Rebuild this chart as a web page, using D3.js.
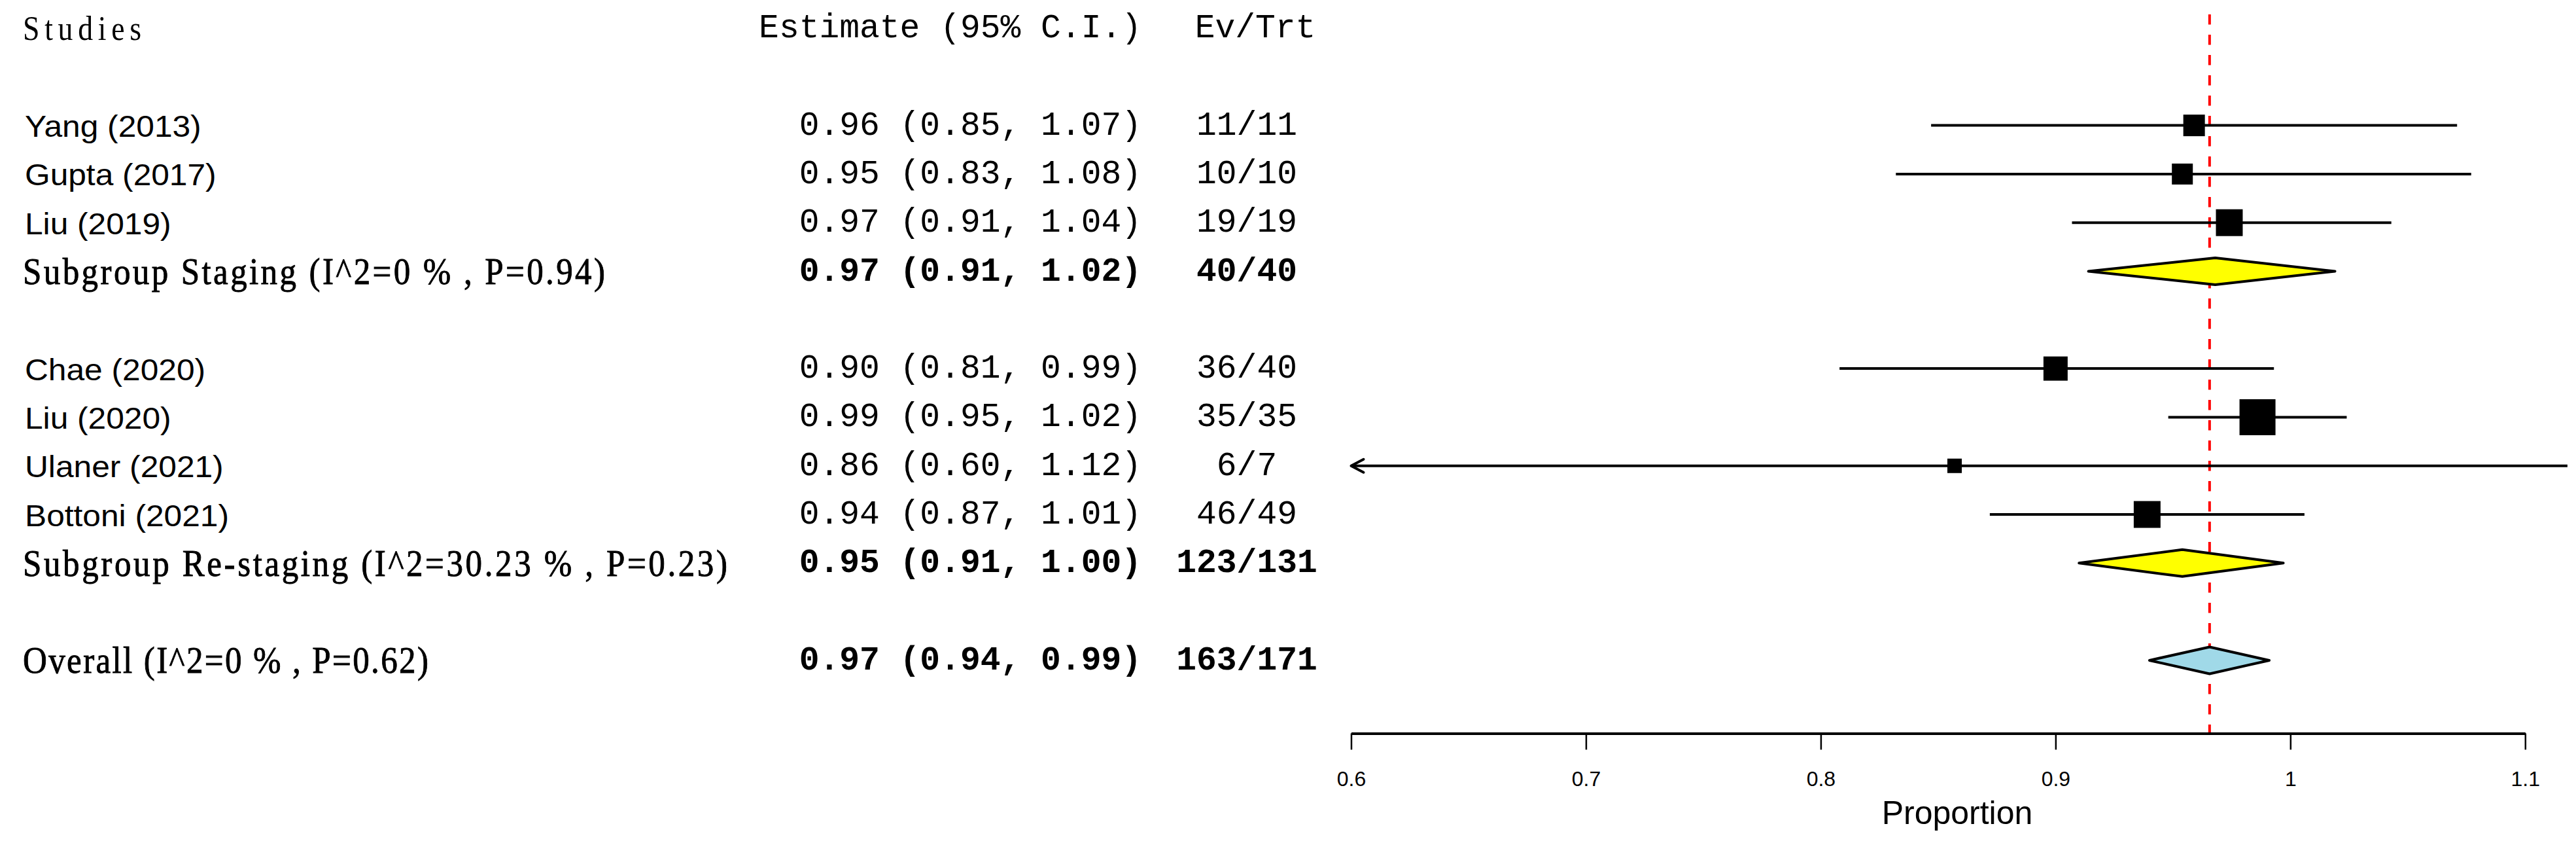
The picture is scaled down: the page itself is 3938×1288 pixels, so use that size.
<!DOCTYPE html>
<html><head><meta charset="utf-8">
<script src="https://cdn.jsdelivr.net/npm/d3@7"></script>
<style>html,body{margin:0;padding:0;background:#fff}</style>
</head><body>
<svg id="chart" width="3938" height="1288"></svg>
<script>
// ---------------- DATA ----------------
const studies      = ["Yang (2013)","Gupta (2017)","Liu (2019)","Chae (2020)","Liu (2020)","Ulaner (2021)","Bottoni (2021)"];
const studyGroup   = ["Staging","Staging","Staging","Re-staging","Re-staging","Re-staging","Re-staging"];
const studyEst     = [0.959,0.954,0.974,0.900,0.986,0.857,0.939];
const studyLower   = [0.847,0.832,0.907,0.808,0.948,0.597,0.872];
const studyUpper   = [1.071,1.077,1.043,0.993,1.024,1.118,1.006];
const studyEvents  = [11,10,19,36,35,6,46];
const studyTotal   = [11,10,19,40,35,7,49];
const studyWeight  = [10.5,9.9,16.2,13.2,29.2,4.7,16.2];

const subgroups    = ["Staging","Re-staging"];
const subEst       = [0.968,0.954];
const subLower     = [0.914,0.910];
const subUpper     = [1.019,0.997];
const subI2        = ["0","30.23"];
const subP         = ["0.94","0.23"];

const overallEst   = 0.9656;
const overallLower = 0.940;
const overallUpper = 0.991;
const overallI2    = "0";
const overallP     = "0.62";

const xTicks       = [0.6,0.7,0.8,0.9,1.0,1.1];
const xTickLabels  = ["0.6","0.7","0.8","0.9","1","1.1"];
const xTitle       = "Proportion";
const headers      = ["Studies","Estimate (95% C.I.)","Ev/Trt"];

// ---------------- LAYOUT ----------------
const W = 3938, H = 1288;
const svg = d3.select("#chart");
svg.append("rect").attr("width",W).attr("height",H).attr("fill","#fff");

const x = d3.scaleLinear().domain([0.6,1.1]).range([2065.5,3860.3]);
const y = d3.scaleLinear().domain([0,14.5]).range([43,1120.4]);
const boxSize = d3.scaleSqrt().domain([0,d3.max(studyWeight)]).range([0,55]);
const clipLo = 0.6, clipHi = 1.2;
const diamondHalf = 20.5;

const SANS = "'Liberation Sans', Arial, Helvetica, sans-serif";
const SERIF = "'Liberation Serif', 'Times New Roman', serif";
const MONO = "'Liberation Mono', 'Courier New', monospace";
const colNameX = 38, colEstRight = 1745, colEvX = 1906, colEvHeadX = 1919;
const serifSquash = 0.88;
const serifWidths = {header:181, Staging:890, "Re-staging":1077, overall:620};

function serifLabel(xp, yp, size, txt, width, weight) {
  return svg.append("text")
    .attr("transform",`translate(${xp},${yp}) scale(${serifSquash},1)`)
    .attr("font-family",SERIF).attr("font-size",size).attr("font-weight",weight)
    .attr("stroke","#000").attr("stroke-width",weight === "normal" ? 0 : 0.9)
    .attr("textLength",width/serifSquash).attr("lengthAdjust","spacing")
    .text(txt);
}

// build rows
const rows = [];
let r = 2;
subgroups.forEach((g,gi) => {
  studies.forEach((s,i) => {
    if (studyGroup[i] !== g) return;
    rows.push({type:"study", row:r++, label:s, est:studyEst[i], lo:studyLower[i], hi:studyUpper[i],
               ev:studyEvents[i], n:studyTotal[i], w:studyWeight[i]});
  });
  const idx = studies.map((s,i)=>i).filter(i=>studyGroup[i]===g);
  rows.push({type:"sub", key:g, row:r++, label:`Subgroup ${g} (I^2=${subI2[gi]} % , P=${subP[gi]})`,
             est:subEst[gi], lo:subLower[gi], hi:subUpper[gi],
             ev:d3.sum(idx,i=>studyEvents[i]), n:d3.sum(idx,i=>studyTotal[i]), fill:"#FFFF00"});
  r++; // blank row
});
rows.push({type:"overall", key:"overall", row:r, label:`Overall (I^2=${overallI2} % , P=${overallP})`,
           est:overallEst, lo:overallLower, hi:overallUpper,
           ev:d3.sum(studyEvents), n:d3.sum(studyTotal), fill:"#A0D9E8"});

const f2 = v => v.toFixed(2);

// ---------------- HEADERS ----------------
serifLabel(colNameX-3, y(0)+18, 52, headers[0], serifWidths.header, "normal");
svg.append("text").attr("x",colEstRight).attr("y",y(0)+14).attr("text-anchor","end")
  .attr("font-family",MONO).attr("font-size",51.3)
  .style("white-space","pre").text(headers[1]);
svg.append("text").attr("x",colEvHeadX).attr("y",y(0)+14).attr("text-anchor","middle")
  .attr("font-family",MONO).attr("font-size",51.3).text(headers[2]);

// ---------------- REFERENCE LINE ----------------
svg.append("line").attr("x1",x(overallEst)).attr("x2",x(overallEst))
  .attr("y1",22).attr("y2",y(14.5))
  .attr("stroke","#FF0000").attr("stroke-width",4).attr("stroke-dasharray","15.5,15.5");

// ---------------- ROWS ----------------
rows.forEach(d => {
  const yy = y(d.row);
  const bold = d.type !== "study";
  if (d.type === "study") {
    svg.append("text").attr("transform",`translate(${colNameX},${yy+17.5}) scale(1.08,1)`)
      .attr("font-family",SANS).attr("font-size",46).text(d.label);
  } else {
    serifLabel(colNameX-3, yy+19.5, 58, d.label, serifWidths[d.key], "medium");
  }
  svg.append("text").attr("x",colEstRight).attr("y",yy+14).attr("text-anchor","end")
    .attr("font-family",MONO).attr("font-size",51.3).attr("font-weight",bold?"bold":"normal")
    .style("white-space","pre")
    .text(`${f2(d.est)} (${f2(d.lo)}, ${f2(d.hi)})`);
  svg.append("text").attr("x",colEvX).attr("y",yy+14).attr("text-anchor","middle")
    .attr("font-family",MONO).attr("font-size",51.3).attr("font-weight",bold?"bold":"normal")
    .text(`${d.ev}/${d.n}`);

  if (d.type === "study") {
    const lo = Math.max(d.lo, clipLo), hi = Math.min(d.hi, clipHi);
    svg.append("line").attr("x1",x(lo)).attr("x2",x(hi)).attr("y1",yy).attr("y2",yy)
      .attr("stroke","#000").attr("stroke-width",4);
    if (d.lo < clipLo) {
      svg.append("path")
        .attr("d",`M${x(clipLo)+19},${yy-10}L${x(clipLo)},${yy}L${x(clipLo)+19},${yy+10}`)
        .attr("fill","none").attr("stroke","#000").attr("stroke-width",4)
        .attr("stroke-linejoin","round").attr("stroke-linecap","round");
    }
    const s = boxSize(d.w);
    svg.append("rect").attr("x",x(d.est)-s/2).attr("y",yy-s/2).attr("width",s).attr("height",s)
      .attr("fill","#000");
  } else {
    const pts = [[x(d.lo),yy],[x(d.est),yy-diamondHalf],[x(d.hi),yy],[x(d.est),yy+diamondHalf]];
    svg.append("polygon").attr("points",pts.map(p=>p.join(",")).join(" "))
      .attr("fill",d.fill).attr("stroke","#000").attr("stroke-width",4)
      .attr("stroke-linejoin","round");
  }
});

// ---------------- AXIS ----------------
const axis = d3.axisBottom(x).tickValues(xTicks)
  .tickFormat((d,i)=>xTickLabels[i]).tickSize(25).tickSizeOuter(0).tickPadding(33);
const gAxis = svg.append("g").attr("transform",`translate(0,${y(14.5)})`).call(axis);
gAxis.select(".domain").attr("stroke","#000").attr("stroke-width",4);
gAxis.selectAll(".tick line").attr("stroke","#000").attr("stroke-width",2.5);
gAxis.selectAll(".tick text").attr("font-family",SANS).attr("font-size",32).attr("fill","#000");

svg.append("text").attr("x",2992).attr("y",1259).attr("text-anchor","middle")
  .attr("font-family",SANS).attr("font-size",50).text(xTitle);
</script>
</body></html>
